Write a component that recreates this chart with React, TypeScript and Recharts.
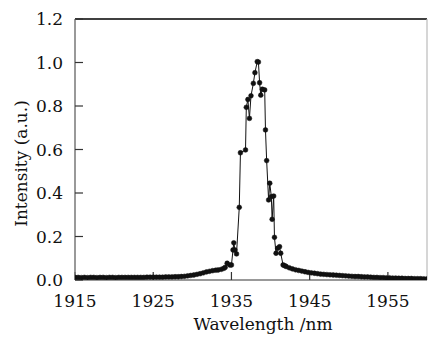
import React from 'react';
import { LineChart, Line, XAxis, YAxis, ReferenceLine } from 'recharts';

const wavelengths = [
  1915.0, 1915.4, 1915.8, 1916.2, 1916.6, 1917.0, 1917.4, 1917.8, 1918.2, 1918.6,
  1919.0, 1919.4, 1919.8, 1920.2, 1920.6, 1921.0, 1921.4, 1921.8, 1922.2, 1922.6,
  1923.0, 1923.4, 1923.8, 1924.2, 1924.6, 1925.0, 1925.4, 1925.8, 1926.2, 1926.6,
  1927.0, 1927.4, 1927.8, 1928.2, 1928.6, 1929.0, 1929.4, 1929.8, 1930.2, 1930.6,
  1931.0, 1931.4, 1931.8, 1932.2, 1932.6, 1933.0, 1933.3, 1933.7, 1934.0, 1934.2,
  1934.45, 1934.8, 1935.0, 1935.2, 1935.3, 1935.45, 1935.65, 1936.0, 1936.15, 1936.8,
  1936.9, 1937.1, 1937.3, 1937.5, 1937.8, 1938.0, 1938.3, 1938.45, 1938.6, 1938.75,
  1938.95, 1939.25, 1939.35, 1939.5, 1939.75, 1939.9, 1940.1, 1940.2, 1940.4, 1940.5,
  1940.7, 1940.9, 1941.15, 1941.3, 1941.6, 1941.8, 1942.0, 1942.4, 1942.8, 1943.2,
  1943.6, 1944.0, 1944.4, 1944.8, 1945.2, 1945.6, 1946.0, 1946.4, 1946.8, 1947.2,
  1947.6, 1948.0, 1948.4, 1948.8, 1949.2, 1949.6, 1950.0, 1950.4, 1950.8, 1951.2,
  1951.6, 1952.0, 1952.4, 1952.8, 1953.2, 1953.6, 1954.0, 1954.4, 1954.8, 1955.2,
  1955.6, 1956.0, 1956.4, 1956.8, 1957.2, 1957.6, 1958.0, 1958.4, 1958.8, 1959.2,
  1959.6, 1960.0,
];

const intensities = [
  0.012, 0.012, 0.011, 0.012, 0.011, 0.012, 0.012, 0.011, 0.012, 0.012,
  0.011, 0.012, 0.012, 0.011, 0.012, 0.012, 0.012, 0.012, 0.012, 0.012,
  0.012, 0.012, 0.012, 0.013, 0.013, 0.013, 0.013, 0.013, 0.013, 0.014,
  0.014, 0.014, 0.015, 0.015, 0.016, 0.017, 0.019, 0.021, 0.023, 0.026,
  0.029, 0.033, 0.037, 0.040, 0.043, 0.045, 0.046, 0.049, 0.053, 0.058,
  0.077, 0.069, 0.069, 0.138, 0.171, 0.138, 0.120, 0.334, 0.585, 0.598,
  0.794, 0.830, 0.743, 0.847, 0.904, 0.953, 1.004, 1.002, 0.907, 0.850,
  0.877, 0.874, 0.690, 0.549, 0.368, 0.445, 0.383, 0.279, 0.386, 0.196,
  0.123, 0.146, 0.153, 0.123, 0.069, 0.066, 0.062, 0.056, 0.051, 0.047,
  0.044, 0.041, 0.038, 0.035, 0.033, 0.031, 0.029, 0.027, 0.026, 0.025,
  0.024, 0.023, 0.022, 0.021, 0.020, 0.019, 0.018, 0.017, 0.016, 0.016,
  0.015, 0.014, 0.014, 0.013, 0.012, 0.012, 0.011, 0.011, 0.010, 0.010,
  0.009, 0.009, 0.008, 0.008, 0.007, 0.007, 0.007, 0.006, 0.006, 0.006,
  0.005, 0.005,
];

const xTicks = [1915, 1925, 1935, 1945, 1955];
const yTicks = [0, 0.2, 0.4, 0.6, 0.8, 1.0, 1.2];

const xLabel = 'Wavelength /nm';
const yLabel = 'Intensity (a.u.)';

const data = wavelengths.map((w, i) => ({ w, v: intensities[i] }));

const FONT = 'DejaVu Serif';

const XLabel = (props: any) => {
  const vb = props.viewBox || {};
  const cx = vb.x + vb.width / 2 + 12;
  return (
    <text x={cx} y={330} textAnchor="middle" fontFamily={FONT} fontSize={17} fill="#111">
      {xLabel}
    </text>
  );
};

const YLabel = (props: any) => {
  const vb = props.viewBox || {};
  const cy = vb.y + vb.height / 2 + 14;
  const cx = 21;
  return (
    <text
      x={cx}
      y={cy}
      textAnchor="middle"
      dominantBaseline="central"
      fontFamily={FONT}
      fontSize={17}
      fill="#111"
      transform={`rotate(-90 ${cx} ${cy})`}
    >
      {yLabel}
    </text>
  );
};

export default function App() {
  return (
    <div style={{ position: 'absolute', left: 0, top: 0, background: '#fff' }}>
      <LineChart
        width={428}
        height={337}
        data={data}
        margin={{ top: 19, right: 1, left: 0, bottom: 0 }}
        style={{ fontFamily: FONT }}
      >
        <XAxis
          dataKey="w"
          type="number"
          domain={[1915, 1960]}
          ticks={xTicks}
          allowDataOverflow
          height={57}
          tickSize={-8}
          tickMargin={23}
          axisLine={{ stroke: '#777', strokeWidth: 1.5 }}
          tickLine={{ stroke: '#333', strokeWidth: 1.2 }}
          tick={{ fill: '#111', fontSize: 17, fontFamily: FONT }}
          label={<XLabel />}
        />
        <YAxis
          type="number"
          domain={[0, 1.2]}
          ticks={yTicks}
          allowDataOverflow
          width={75}
          tickSize={-8}
          tickMargin={20}
          tickFormatter={(v: number) => v.toFixed(1)}
          axisLine={{ stroke: '#777', strokeWidth: 1.5 }}
          tickLine={{ stroke: '#333', strokeWidth: 1.2 }}
          tick={{ fill: '#111', fontSize: 17, fontFamily: FONT }}
          label={<YLabel />}
        />
        <ReferenceLine y={1.2} stroke="#000" strokeWidth={1.5} ifOverflow="extendDomain" />
        <ReferenceLine x={1960} stroke="#bbb" strokeWidth={1.2} ifOverflow="extendDomain" />
        <Line
          dataKey="v"
          type="linear"
          stroke="#111"
          strokeWidth={1}
          dot={{ r: 2.4, fill: '#111', stroke: '#111', strokeWidth: 0.5 }}
          isAnimationActive={false}
        />
      </LineChart>
    </div>
  );
}
